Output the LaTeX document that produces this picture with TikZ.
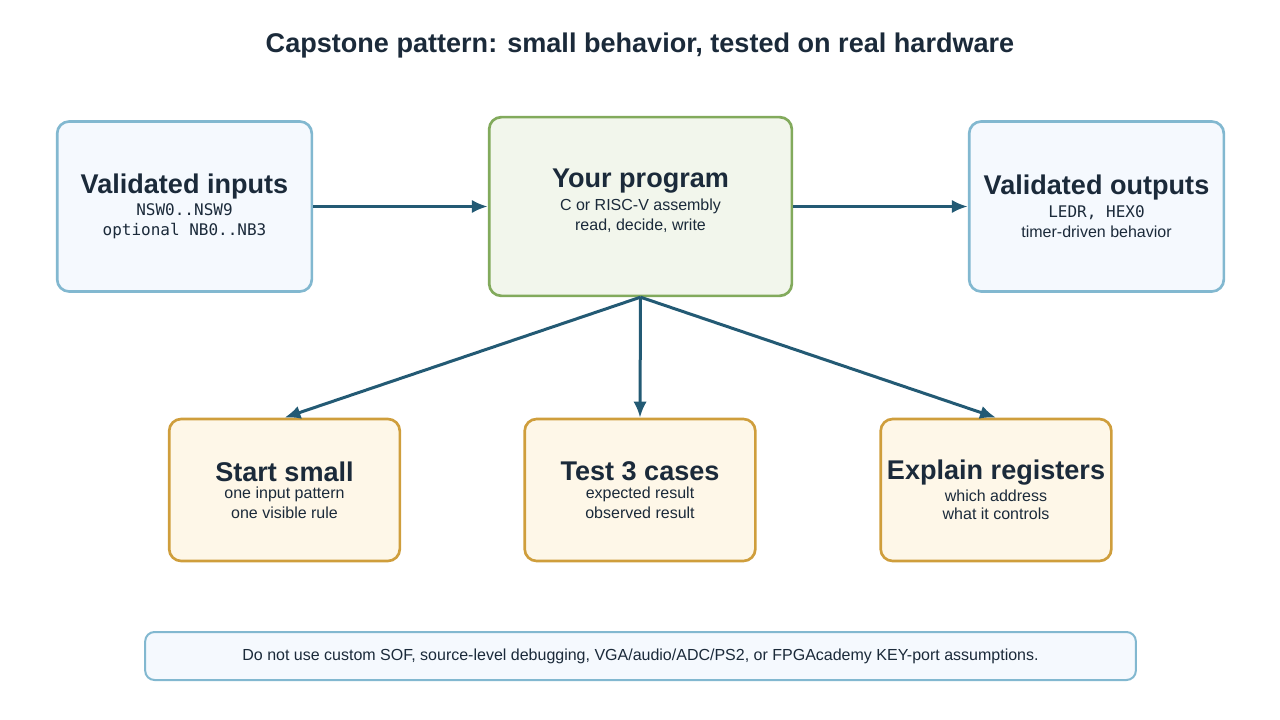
\documentclass[tikz,border=0pt]{standalone}
\usepackage{fontspec}
\setmainfont{Liberation Sans}
\setmonofont{DejaVu Sans Mono}
\usetikzlibrary{
    arrows.meta,  % For arrow tips
    positioning,  % For relative placement
}

\definecolor{ink}{HTML}{1B2A3A}
\definecolor{link}{HTML}{235A74}
\definecolor{ioline}{HTML}{82B8D0}
\definecolor{iofill}{HTML}{F5F9FE}
\definecolor{progline}{HTML}{82AA5C}
\definecolor{progfill}{HTML}{F2F6EC}
\definecolor{stepline}{HTML}{CF9E3C}
\definecolor{stepfill}{HTML}{FEF7E8}

\newcommand{\boxhead}[1]{{\fontsize{20.3}{24}\selectfont\bfseries #1}}

\begin{document}
\begin{tikzpicture}[
    x=0.75pt, y=-0.75pt, % one unit = one pixel of the reference
    >={Latex[length=12pt,width=10pt]},
    card/.style={draw, line width=2pt, rounded corners=9pt, align=center,
        inner sep=0pt, text=ink, font=\fontsize{12}{15}\selectfont},
    iocard/.style={card, draw=ioline, fill=iofill,
        minimum width=191pt, minimum height=127.5pt},
    progcard/.style={card, draw=progline, fill=progfill,
        minimum width=227pt, minimum height=134pt},
    stepcard/.style={card, draw=stepline, fill=stepfill,
        minimum width=173pt, minimum height=106.5pt},
    notecard/.style={card, draw=ioline, fill=iofill, line width=1.5pt,
        rounded corners=7pt, minimum width=743pt, minimum height=36pt,
        font=\fontsize{12}{14}\selectfont},
    flow/.style={->, draw=link, line width=2.25pt}
]
    \useasboundingbox (0,0) rectangle (1280,720);

    % Title
    \node[text=ink, font=\fontsize{20.3}{24}\selectfont\bfseries] (title) at (640,46)
        {Capstone pattern: small behavior, tested on real hardware};

    % Top row
    \node[iocard] (inputs) at (184.5,206.5)
        {\boxhead{Validated inputs}\\[2pt] \texttt{NSW0..NSW9}\\ \texttt{optional NB0..NB3}};
    \node[progcard] (program) at (640.5,206.5)
        {\boxhead{Your program}\\[2pt] C or RISC-V assembly\\ read, decide, write\\[-5pt]};
    \node[iocard] (outputs) at (1096.5,206.5)
        {\boxhead{Validated outputs}\\[2pt] \texttt{LEDR, HEX0}\\ timer-driven behavior};

    % Bottom row
    \node[stepcard] (start) at (284.5,490)
        {\boxhead{Start small}\\[-2pt] one input pattern\\ one visible rule};
    \node[stepcard] (test) at (640,490)
        {\boxhead{Test 3 cases}\\[-2pt] expected result\\ observed result};
    \node[stepcard] (explain) at (996,490)
        {\boxhead{Explain registers}\\[1pt] which address\\[-1pt] what it controls};

    % Note
    \node[notecard] (note) at (640.5,656)
        {Do not use custom SOF, source-level debugging, VGA/audio/ADC/PS2, or FPGAcademy KEY-port assumptions.};

    % Connectors
    \draw[flow] (inputs.east) -- (program.west);
    \draw[flow] (program.east) -- (outputs.west);
    \draw[flow] (program.south) -- (start.north);
    \draw[flow] (program.south) -- (test.north);
    \draw[flow] (program.south) -- (explain.north);

\end{tikzpicture}
\end{document}
